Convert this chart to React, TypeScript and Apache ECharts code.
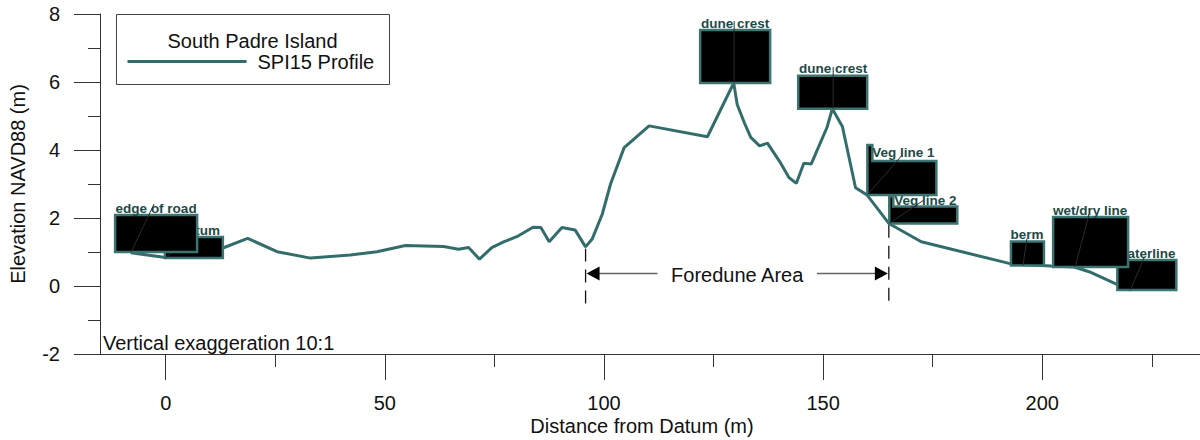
import React, { useEffect, useRef } from "react";
import * as echarts from "echarts";

// ---------- data ----------
const seriesName = "SPI15 Profile";
const legendTitle = "South Padre Island";
const noteText = "Vertical exaggeration 10:1";
const xAxisName = "Distance from Datum (m)";
const yAxisName = "Elevation NAVD88 (m)";

const profileX = [
  -8, 0, 12.9, 18.7, 25.4, 33.0, 42.1, 48.2, 54.7, 63.4, 66.8, 69.1, 71.6, 74.4,
  77.1, 80.1, 83.8, 85.6, 87.5, 90.4, 93.4, 95.8, 97.3, 99.6, 101.5, 104.6, 110.3,
  123.6, 129.6, 130.4, 132.1, 133.5, 135.5, 137.3, 140.1, 142.2, 143.9, 145.6,
  147.3, 150.9, 152.1, 154.4, 157.4, 160.0, 165.0, 172.4, 192.9, 202.0, 207.3,
  210.7, 216.8, 220.0,
];
const profileY = [
  0.98, 0.84, 1.11, 1.4, 1.01, 0.82, 0.91, 1.01, 1.19, 1.16, 1.08, 1.13, 0.79, 1.13,
  1.3, 1.45, 1.73, 1.72, 1.3, 1.72, 1.65, 1.15, 1.38, 2.11, 3.0, 4.07, 4.71,
  4.39, 5.97, 5.34, 4.78, 4.37, 4.12, 4.2, 3.66, 3.19, 3.02, 3.61,
  3.59, 4.67, 5.21, 4.69, 2.89, 2.68, 1.84, 1.3, 0.65, 0.59, 0.56,
  0.42, 0.06, -0.12,
];

const annotationLabels = [
  "edge of road", "datum", "dune crest", "dune crest", "Veg line 1",
  "Veg line 2", "berm", "wet/dry line", "waterline",
];
const annotationX = [-7.9, -0.2, 129.7, 152.3, 160.1, 165.1, 195.6, 207.5, 220.1];
const annotationY = [1.0, 0.82, 5.97, 5.21, 2.68, 1.84, 0.6, 0.56, -0.12];

const foreduneLabel = "Foredune Area";
const foreduneBounds = [95.8, 165.0];
const foreduneArrowY = 0.37;
const foreduneDashTop = [1.1, 1.8];
const foreduneDashBottom = -0.57;

const xMajorTicks = [0, 50, 100, 150, 200];
const xMinorTicks = [25, 75, 125, 175, 225];

// ---------- styles (pixel offsets of the annotation boxes) ----------
const annotationBoxes = [
  { l: -16, r: 66, t: -37, tx: 25, ty: -44, lx: 23, ly: -48 },
  { l: 0, r: 58, t: -21, tx: 35, ty: -28, lx: 30, ly: -24 },
  { l: -34, r: 36, t: -53, tx: 1, ty: -60, lx: 0, ly: -62 },
  { l: -35, r: 34, t: -33, tx: 0, ty: -40, lx: 0, ly: -42 },
  { l: 0, r: 69, t: -34, bw: 5, bt: -50, tx: 36, ty: -42, lx: 35, ly: -40 },
  { l: 0, r: 68, t: -17, bw: 4, bt: -27, tx: 36, ty: -23, lx: 34, ly: -23 },
  { l: -12, r: 21, t: -24, tx: 4, ty: -31, lx: 4, ly: -27 },
  { l: -22, r: 53, t: -50, tx: 15, ty: -56, lx: 14, ly: -53 },
  { l: -13, r: 46, t: -30, tx: 16, ty: -37, lx: 14, ly: -33 },
];

const FONT = "'Liberation Sans', Arial, sans-serif";
const LINE_COLOR = "#336d6b";
const BOX_STROKE = "#3c7471";
const LABEL_COLOR = "#1c4a48";
const AXIS_COLOR = "#333";

export default function App() {
  const ref = useRef<HTMLDivElement>(null);

  useEffect(() => {
    if (!ref.current) return;
    const chart = echarts.init(ref.current, null, { renderer: "svg" });

    // draw right-most annotations first so that left ones overlap them
    const order = annotationX
      .map((_, i) => i)
      .sort((a, b) => annotationX[b] - annotationX[a]);

    const option: any = {
      animation: false,
      textStyle: { fontFamily: FONT },
      grid: { left: 100, right: 0, top: 14, bottom: 86, containLabel: false, outerBoundsMode: "none" },
      xAxis: [
        {
          type: "value",
          min: -15,
          max: 236,
          position: "bottom",
          axisLine: { show: true, onZero: false, lineStyle: { color: AXIS_COLOR, width: 1 } },
          axisTick: { show: true, customValues: xMajorTicks, length: 26, lineStyle: { color: AXIS_COLOR } },
          axisLabel: { customValues: xMajorTicks, fontSize: 20, color: "#111", margin: 39, fontFamily: FONT },
          splitLine: { show: false },
          name: xAxisName,
          nameLocation: "middle",
          nameGap: 62,
          nameMoveOverlap: false,
          nameTextStyle: { fontSize: 20, color: "#111", fontFamily: FONT, padding: [0, 16, 0, 0] },
        },
        {
          type: "value",
          min: -15,
          max: 236,
          position: "bottom",
          axisLine: { show: false, onZero: false },
          axisTick: { show: true, customValues: xMinorTicks, length: 13, lineStyle: { color: AXIS_COLOR } },
          axisLabel: { show: false },
          splitLine: { show: false },
        },
      ],
      yAxis: {
        type: "value",
        min: -2,
        max: 8,
        interval: 2,
        position: "left",
        axisLine: { show: true, onZero: false, lineStyle: { color: AXIS_COLOR, width: 1 } },
        axisTick: { show: true, length: 26, lineStyle: { color: AXIS_COLOR } },
        minorTick: { show: true, splitNumber: 2, length: 12, lineStyle: { color: AXIS_COLOR } },
        splitLine: { show: false },
        minorSplitLine: { show: false },
        axisLabel: { fontSize: 20, color: "#111", margin: 40, fontFamily: FONT },
        name: yAxisName,
        nameLocation: "middle",
        nameGap: 72,
        nameMoveOverlap: false,
        nameTextStyle: { fontSize: 20, color: "#111", fontFamily: FONT },
      },
      graphic: [
        {
          type: "group",
          left: 116,
          top: 14,
          z: 10,
          children: [
            { type: "rect", shape: { x: 0, y: 0, width: 273, height: 70 }, style: { fill: "#fff", stroke: "#444", lineWidth: 1 } },
            { type: "text", x: 136, y: 26, style: { text: legendTitle, fill: "#111", font: `20px ${FONT}`, align: "center", verticalAlign: "middle" } },
            { type: "line", shape: { x1: 11, y1: 47, x2: 130, y2: 47 }, style: { stroke: LINE_COLOR, lineWidth: 3 } },
            { type: "text", x: 141, y: 47, style: { text: seriesName, fill: "#111", font: `20px ${FONT}`, align: "left", verticalAlign: "middle" } },
          ],
        },
        {
          type: "text",
          left: 103,
          top: 333,
          z: 10,
          style: { text: noteText, fill: "#111", font: `20px ${FONT}` },
        },
      ],
      series: [
        {
          type: "custom",
          name: "foredune",
          coordinateSystem: "cartesian2d",
          xAxisIndex: 0,
          yAxisIndex: 0,
          clip: false,
          z: 1,
          silent: true,
          data: [[foreduneBounds[0], foreduneArrowY]],
          renderItem: (_params: any, api: any) => {
            const [lx, ay] = api.coord([foreduneBounds[0], foreduneArrowY]);
            const [rx] = api.coord([foreduneBounds[1], foreduneArrowY]);
            const lTop = api.coord([foreduneBounds[0], foreduneDashTop[0]])[1];
            const rTop = api.coord([foreduneBounds[1], foreduneDashTop[1]])[1];
            const bot = api.coord([foreduneBounds[0], foreduneDashBottom])[1];
            const dash = { stroke: "#111", lineWidth: 1.3, lineDash: [13, 8] };
            return {
              type: "group",
              children: [
                { type: "line", shape: { x1: lx, y1: lTop, x2: lx, y2: bot }, style: dash },
                { type: "line", shape: { x1: rx, y1: rTop, x2: rx, y2: bot }, style: dash },
                { type: "line", shape: { x1: lx + 10, y1: ay, x2: rx - 10, y2: ay }, style: { stroke: "#666", lineWidth: 1.5 } },
                { type: "polygon", shape: { points: [[lx + 1, ay], [lx + 14, ay - 7], [lx + 14, ay + 7]] }, style: { fill: "#000" } },
                { type: "polygon", shape: { points: [[rx - 1, ay], [rx - 14, ay - 7], [rx - 14, ay + 7]] }, style: { fill: "#000" } },
                {
                  type: "text",
                  x: (lx + rx) / 2,
                  y: ay + 2,
                  style: {
                    text: foreduneLabel,
                    fill: "#111",
                    font: `20px ${FONT}`,
                    align: "center",
                    verticalAlign: "middle",
                    backgroundColor: "#fff",
                    padding: [0, 13],
                  },
                },
              ],
            };
          },
        },
        {
          type: "line",
          name: seriesName,
          data: profileX.map((x, i) => [x, profileY[i]]),
          showSymbol: false,
          symbol: "none",
          lineStyle: { color: LINE_COLOR, width: 3 },
          itemStyle: { color: LINE_COLOR },
          z: 2,
          silent: true,
        },
        {
          type: "custom",
          name: "annotations",
          coordinateSystem: "cartesian2d",
          xAxisIndex: 0,
          yAxisIndex: 0,
          clip: false,
          z: 3,
          silent: true,
          encode: { x: 0, y: 1 },
          data: order.map((i) => [annotationX[i], annotationY[i], i]),
          renderItem: (_params: any, api: any) => {
            const i = api.value(2);
            const b: any = annotationBoxes[i];
            const [px, py] = api.coord([api.value(0), api.value(1)]);
            let pts: number[][];
            if (b.bw) {
              pts = [
                [px + b.l, py + b.bt],
                [px + b.l + b.bw, py + b.bt],
                [px + b.l + b.bw, py + b.t],
                [px + b.r, py + b.t],
                [px + b.r, py],
                [px + b.l, py],
              ];
            } else {
              pts = [
                [px + b.l, py + b.t],
                [px + b.r, py + b.t],
                [px + b.r, py],
                [px + b.l, py],
              ];
            }
            return {
              type: "group",
              children: [
                { type: "polygon", shape: { points: pts }, style: { fill: "#000", stroke: BOX_STROKE, lineWidth: 2.5, lineJoin: "miter" } },
                {
                  type: "text",
                  x: px + b.tx,
                  y: py + b.ty,
                  style: {
                    text: annotationLabels[i],
                    fill: LABEL_COLOR,
                    font: `bold 13.5px ${FONT}`,
                    align: "center",
                    verticalAlign: "middle",
                  },
                },
                { type: "line", shape: { x1: px, y1: py, x2: px + b.lx, y2: py + b.ly }, style: { stroke: "#2b2b2b", lineWidth: 1 } },
              ],
            };
          },
        },
      ],
    };

    chart.setOption(option);
    return () => chart.dispose();
  }, []);

  return (
    <div
      ref={ref}
      style={{ position: "absolute", left: 0, top: 0, width: 1200, height: 440, background: "#fff" }}
    />
  );
}
